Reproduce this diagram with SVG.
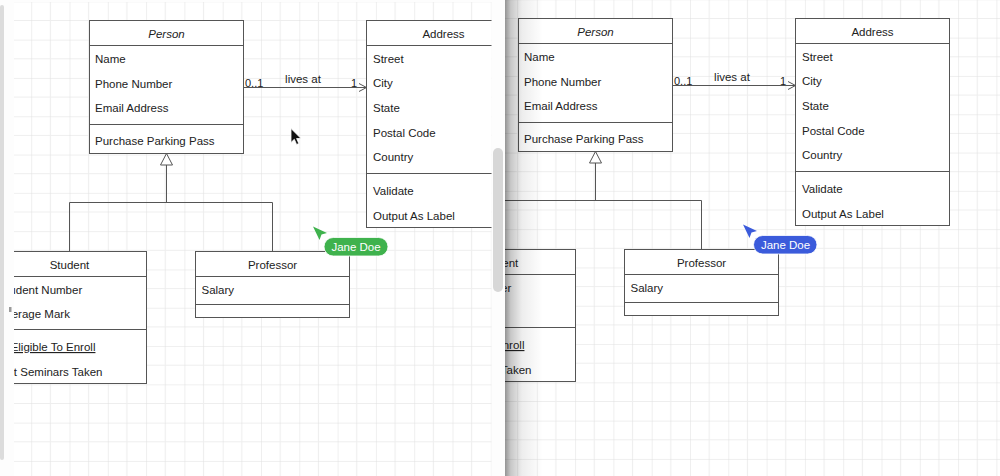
<svg xmlns="http://www.w3.org/2000/svg" width="1000" height="476" viewBox="0 0 1000 476">
<style>
text{font-family:"Liberation Sans",Arial,sans-serif;font-size:11.5px;fill:#222}
.box{fill:#fff;stroke:#555;stroke-width:1}
.sep{stroke:#555;stroke-width:1;fill:none}
.ctr{text-anchor:middle}
.it{font-style:italic}
.edge{stroke:#555;stroke-width:1;fill:none}
.tip{stroke:#555;stroke-width:1;fill:#fff}
.ul{text-decoration:underline}
.tag{fill:#fff;font-size:11.5px;text-anchor:middle}
</style>
<defs>
<pattern id="gridL" patternUnits="userSpaceOnUse" x="69.5" y="1.35" width="38.3" height="38.3">
<rect x="0" y="0" width="38.3" height="38.3" fill="#fff"/>
<path d="M19.15,0V38.3M0,19.15H38.3" stroke="#eeeeee" stroke-width="1"/>
<path d="M0,0V38.3M0,0H38.3" stroke="#e0e0e0" stroke-width="1"/>
</pattern>
<pattern id="gridR" patternUnits="userSpaceOnUse" x="498.5" y="-0.65" width="38.3" height="38.3">
<rect x="0" y="0" width="38.3" height="38.3" fill="#fff"/>
<path d="M19.15,0V38.3M0,19.15H38.3" stroke="#eeeeee" stroke-width="1"/>
<path d="M0,0V38.3M0,0H38.3" stroke="#e0e0e0" stroke-width="1"/>
</pattern>
<clipPath id="clipL"><rect x="14" y="2" width="477.5" height="474"/></clipPath>
<clipPath id="clipR"><rect x="505" y="0" width="495" height="476"/></clipPath>
<linearGradient id="shade" x1="0" y1="0" x2="1" y2="0">
<stop offset="0" stop-color="#000" stop-opacity="0.42"/>
<stop offset="0.15" stop-color="#000" stop-opacity="0.22"/>
<stop offset="0.45" stop-color="#000" stop-opacity="0.07"/>
<stop offset="1" stop-color="#000" stop-opacity="0"/>
</linearGradient>
</defs>
<rect x="0" y="0" width="1000" height="476" fill="#fdfdfd"/>
<!-- left window chrome -->
<rect x="0" y="5" width="4" height="455" rx="2" fill="#dcdcdc"/>
<rect x="9" y="307" width="2.5" height="5" fill="#9a9a9a"/>
<rect x="14" y="2" width="477.5" height="474" fill="url(#gridL)"/>
<rect x="493" y="148" width="10" height="144" rx="5" fill="#d7d7d7"/>
<!-- left window diagram -->
<g clip-path="url(#clipL)">
<g id="diagram-left">
<g id="connectors-left">
<path class="edge" d="M243.5,87.5H366.5"/>
<path class="edge" d="M359,83.5L366.5,87.5L359,91.5"/>
<text x="245" y="86.5" style="font-size:11px">0..1</text>
<text class="ctr" x="303" y="83">lives at</text>
<text x="357" y="86.5" style="font-size:11px;text-anchor:end">1</text>
<path class="edge" d="M166.5,165V202.5M69.5,202.5H272.5M69.5,202.5V251.5M272.5,202.5V251.5"/>
<path class="tip" d="M166.5,153.5L160.5,165H172.5Z"/>
</g>
<g id="person-left">
<rect class="box" x="89.5" y="20.5" width="154" height="133"/>
<path class="sep" d="M89.5,45.5H243.5M89.5,124.5H243.5"/>
<text class="ctr it" x="166.5" y="37.5">Person</text>
<text x="95" y="63">Name</text>
<text x="95" y="87.5">Phone Number</text>
<text x="95" y="112">Email Address</text>
<text x="95" y="145">Purchase Parking Pass</text>
</g>
<g id="address-left">
<rect class="box" x="366.5" y="20.5" width="154" height="207"/>
<path class="sep" d="M366.5,45.5H520.5M366.5,173.5H520.5"/>
<text class="ctr" x="443.5" y="37.5">Address</text>
<text x="373" y="62.5">Street</text>
<text x="373" y="87">City</text>
<text x="373" y="111.5">State</text>
<text x="373" y="136.5">Postal Code</text>
<text x="373" y="161">Country</text>
<text x="373" y="195">Validate</text>
<text x="373" y="219.5">Output As Label</text>
</g>
<g id="student-left">
<rect class="box" x="-7.5" y="251.5" width="154" height="132"/>
<path class="sep" d="M-7.5,276.5H146.5M-7.5,329.5H146.5"/>
<text class="ctr" x="69.5" y="268.5">Student</text>
<text x="-1.5" y="293.5">Student Number</text>
<text x="-1.5" y="318">Average Mark</text>
<text class="ul" x="-1.5" y="351">Is Eligible To Enroll</text>
<text x="-1.5" y="375.5">Get Seminars Taken</text>
</g>
<g id="professor-left">
<rect class="box" x="195.5" y="251.5" width="154" height="66"/>
<path class="sep" d="M195.5,276.5H349.5M195.5,304.5H349.5"/>
<text class="ctr" x="272.5" y="268.5">Professor</text>
<text x="201.5" y="293.5">Salary</text>
</g>
</g>
<g id="cursor-mouse">
<path d="M291,128.5V142.5L294.3,139.3L296.6,144.5L298.8,143.5L296.6,138.5H301Z" fill="#111" stroke="#fff" stroke-width="0.8"/>
</g>
<g id="cursor-green">
<path d="M313,226.5L327,233L321.5,234.5L319.5,240Z" fill="#3fb24d"/>
<rect x="324" y="237.5" width="64" height="18.5" rx="9.25" fill="#3fb24d" stroke="#fff" stroke-width="0.8"/>
<text class="tag" x="356" y="251">Jane Doe</text>
</g>
</g>
<!-- right window -->
<rect x="505" y="0" width="495" height="476" fill="url(#gridR)"/>
<g clip-path="url(#clipR)">
<g id="diagram-right" transform="translate(429,-2)">
<g id="connectors-right">
<path class="edge" d="M243.5,87.5H366.5"/>
<path class="edge" d="M359,83.5L366.5,87.5L359,91.5"/>
<text x="245" y="86.5" style="font-size:11px">0..1</text>
<text class="ctr" x="303" y="83">lives at</text>
<text x="357" y="86.5" style="font-size:11px;text-anchor:end">1</text>
<path class="edge" d="M166.5,165V202.5M69.5,202.5H272.5M69.5,202.5V251.5M272.5,202.5V251.5"/>
<path class="tip" d="M166.5,153.5L160.5,165H172.5Z"/>
</g>
<g id="person-right">
<rect class="box" x="89.5" y="20.5" width="154" height="133"/>
<path class="sep" d="M89.5,45.5H243.5M89.5,124.5H243.5"/>
<text class="ctr it" x="166.5" y="37.5">Person</text>
<text x="95" y="63">Name</text>
<text x="95" y="87.5">Phone Number</text>
<text x="95" y="112">Email Address</text>
<text x="95" y="145">Purchase Parking Pass</text>
</g>
<g id="address-right">
<rect class="box" x="366.5" y="20.5" width="154" height="207"/>
<path class="sep" d="M366.5,45.5H520.5M366.5,173.5H520.5"/>
<text class="ctr" x="443.5" y="37.5">Address</text>
<text x="373" y="62.5">Street</text>
<text x="373" y="87">City</text>
<text x="373" y="111.5">State</text>
<text x="373" y="136.5">Postal Code</text>
<text x="373" y="161">Country</text>
<text x="373" y="195">Validate</text>
<text x="373" y="219.5">Output As Label</text>
</g>
<g id="student-right">
<rect class="box" x="-7.5" y="251.5" width="154" height="132"/>
<path class="sep" d="M-7.5,276.5H146.5M-7.5,329.5H146.5"/>
<text class="ctr" x="69.5" y="268.5">Student</text>
<text x="-1.5" y="293.5">Student Number</text>
<text x="-1.5" y="318">Average Mark</text>
<text class="ul" x="-1.5" y="351">Is Eligible To Enroll</text>
<text x="-1.5" y="375.5">Get Seminars Taken</text>
</g>
<g id="professor-right">
<rect class="box" x="195.5" y="251.5" width="154" height="66"/>
<path class="sep" d="M195.5,276.5H349.5M195.5,304.5H349.5"/>
<text class="ctr" x="272.5" y="268.5">Professor</text>
<text x="201.5" y="293.5">Salary</text>
</g>
</g>
<g id="cursor-blue">
<path d="M743,224.5L757,231L751.5,232.5L749.5,238Z" fill="#3b5bdb"/>
<rect x="753.5" y="235.5" width="63.5" height="18.5" rx="9.25" fill="#3b5bdb" stroke="#fff" stroke-width="0.8"/>
<text class="tag" x="785.5" y="249">Jane Doe</text>
</g>
<rect x="505" y="0" width="38" height="476" fill="url(#shade)"/>
</g>
</svg>
